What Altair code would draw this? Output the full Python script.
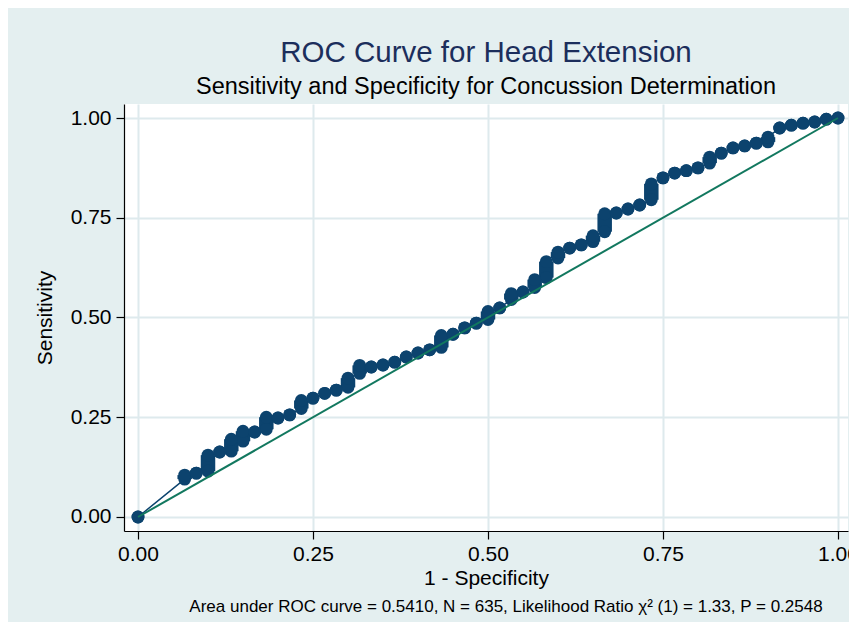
import altair as alt
import pandas as pd

# 1 - Specificity positions (steps of 1/60) and sensitivity ranges at each step
fpr = [0.0, 0.0667, 0.0833, 0.1, 0.1167, 0.1333, 0.15, 0.1667, 0.1833, 0.2,
       0.2167, 0.2333, 0.25, 0.2667, 0.2833, 0.3, 0.3167, 0.3333, 0.35, 0.3667,
       0.3833, 0.4, 0.4167, 0.4333, 0.45, 0.4667, 0.4833, 0.5, 0.5167, 0.5333,
       0.55, 0.5667, 0.5833, 0.6, 0.6167, 0.6333, 0.65, 0.6667, 0.6833, 0.7,
       0.7167, 0.7333, 0.75, 0.7667, 0.7833, 0.8, 0.8167, 0.8333, 0.85, 0.8667,
       0.8833, 0.9, 0.9167, 0.9333, 0.95, 0.9667, 0.9833, 1.0]
sens_low = [0.0, 0.095, 0.11, 0.115, 0.163, 0.165, 0.19, 0.213, 0.22, 0.248,
            0.256, 0.272, 0.298, 0.31, 0.318, 0.325, 0.36, 0.376, 0.381, 0.388,
            0.401, 0.411, 0.419, 0.425, 0.458, 0.474, 0.486, 0.495, 0.524, 0.545,
            0.564, 0.575, 0.60, 0.649, 0.674, 0.682, 0.69, 0.715, 0.762, 0.772,
            0.782, 0.795, 0.85, 0.862, 0.868, 0.875, 0.887, 0.912, 0.925, 0.93,
            0.937, 0.94, 0.975, 0.982, 0.987, 0.99, 0.997, 1.0]
sens_high = [0.0, 0.105, 0.11, 0.155, 0.163, 0.195, 0.215, 0.213, 0.25, 0.248,
             0.256, 0.292, 0.298, 0.31, 0.318, 0.348, 0.38, 0.376, 0.381, 0.388,
             0.401, 0.411, 0.419, 0.455, 0.458, 0.474, 0.486, 0.515, 0.524, 0.56,
             0.564, 0.595, 0.64, 0.664, 0.674, 0.682, 0.705, 0.76, 0.762, 0.772,
             0.782, 0.835, 0.85, 0.862, 0.868, 0.875, 0.902, 0.912, 0.925, 0.93,
             0.937, 0.952, 0.975, 0.982, 0.987, 0.99, 0.997, 1.0]

ref_x = [0.0, 1.0]
ref_y = [0.0, 1.0]
tick_vals = [0.0, 0.25, 0.5, 0.75, 1.0]

title_text = "ROC Curve for Head Extension"
subtitle_text = "Sensitivity and Specificity for Concussion Determination"
note_text = "Area under ROC curve = 0.5410, N = 635, Likelihood Ratio \u03c7\u00b2 (1) = 1.33, P = 0.2548"

NAVY = "#0c436e"
TEAL = "#12785f"
BG = "#e4eff0"
GRID = "#deeaed"
FONT = "Liberation Sans"

bars = pd.DataFrame({"x": fpr, "y": sens_low, "y2": sens_high})
path_rows = []
for i, (xv, lo, hi) in enumerate(zip(fpr, sens_low, sens_high)):
    path_rows.append({"x": xv, "y": lo, "o": 2 * i})
    path_rows.append({"x": xv, "y": hi, "o": 2 * i + 1})
path = pd.DataFrame(path_rows)
ref = pd.DataFrame({"x": ref_x, "y": ref_y})
note_df = pd.DataFrame({"t": [note_text]})

xscale = alt.Scale(domain=[-0.02, 1.0143], nice=False, zero=False)
yscale = alt.Scale(domain=[-0.0351, 1.0351], nice=False, zero=False)
xaxis = alt.Axis(values=tick_vals, format=".2f", title="1 - Specificity",
                 tickSize=8, labelPadding=4, titlePadding=3, labelFontSize=21,
                 titleFontSize=21, grid=True, labelFlush=False)
yaxis = alt.Axis(values=tick_vals, format=".2f", title="Sensitivity",
                 tickSize=8, labelPadding=5, titlePadding=15, labelFontSize=21,
                 titleFontSize=21, grid=True)

X = alt.X("x:Q", scale=xscale, axis=xaxis)
Y = alt.Y("y:Q", scale=yscale, axis=yaxis)

MS = 165
MW = 14.5

line = alt.Chart(path).mark_line(color=NAVY, strokeWidth=1.5).encode(
    x=X, y=Y, order="o:Q")
rules = alt.Chart(bars).mark_rule(color=NAVY, strokeWidth=MW).encode(
    x=X, y=Y, y2="y2:Q")
dots_lo = alt.Chart(bars).mark_circle(color=NAVY, size=MS, opacity=1).encode(
    x=X, y=Y)
dots_hi = alt.Chart(bars).mark_circle(color=NAVY, size=MS, opacity=1).encode(
    x=X, y=alt.Y("y2:Q", scale=yscale, axis=yaxis))
diag = alt.Chart(ref).mark_line(color=TEAL, strokeWidth=2).encode(x=X, y=Y)
note = alt.Chart(note_df).mark_text(
    font=FONT, fontSize=17, color="black", align="center", baseline="alphabetic"
).encode(x=alt.value(382), y=alt.value(508), text="t:N")

chart = alt.layer(line, rules, dots_lo, dots_hi, diag, note).properties(
    width=724,
    height=427,
    padding={"left": 116, "top": 96, "right": 1, "bottom": 91},
    autosize=alt.AutoSizeParams(type="none"),
    background=BG,
    title=alt.TitleParams(
        text=title_text, subtitle=subtitle_text, anchor="middle", frame="group",
        font=FONT, fontSize=29.5, fontWeight="normal", color="#1c2e5c",
        subtitleFont=FONT, subtitleFontSize=23.5, subtitleColor="black",
        subtitlePadding=6, offset=5),
).configure_view(fill="white", stroke=None).configure_axis(
    domainColor="black", domainWidth=1.2, tickColor="black", tickWidth=1.2,
    labelColor="black", titleColor="black", labelFont=FONT, titleFont=FONT,
    titleFontWeight="normal", gridColor=GRID, gridWidth=2)

chart.save("out.html", embed_options={"renderer": "svg", "actions": False})
